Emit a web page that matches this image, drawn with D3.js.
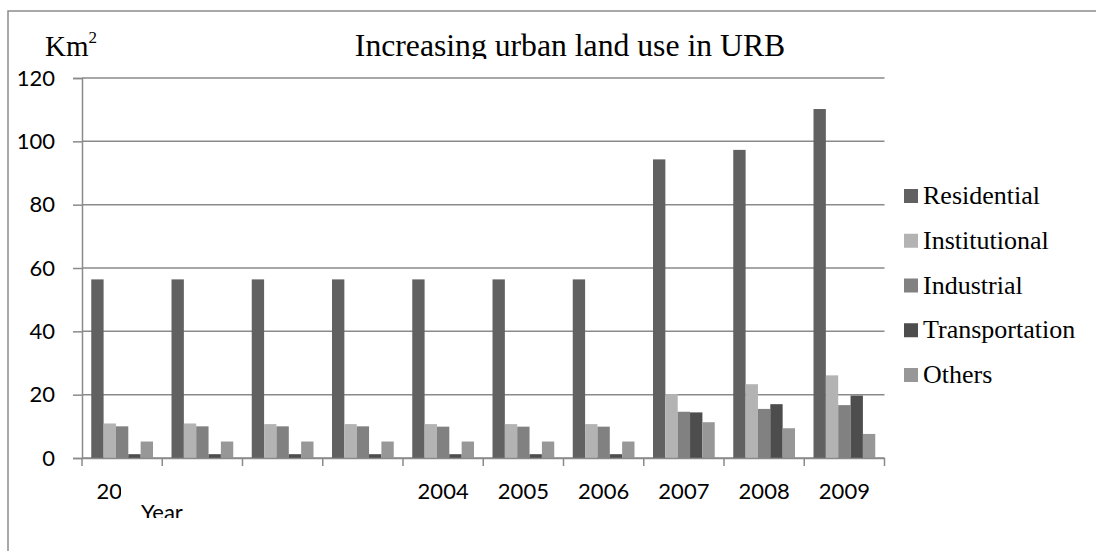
<!DOCTYPE html>
<html>
<head>
<meta charset="utf-8">
<script src="https://cdn.jsdelivr.net/npm/d3@7"></script>
<style>
  html, body { margin: 0; padding: 0; background: #fff; }
  svg { display: block; }
</style>
</head>
<body>
<svg id="chart" width="1096" height="551"></svg>
<script>
// Urban land use by category, km², 2000–2009
const years = ["2000", "2001", "2002", "2003", "2004", "2005", "2006", "2007", "2008", "2009"];
const seriesNames = ["Residential", "Institutional", "Industrial", "Transportation", "Others"];
const residential    = [56.4, 56.4, 56.4, 56.4, 56.4, 56.4, 56.4, 94.3, 97.3, 110.2];
const institutional  = [10.9, 10.9, 10.7, 10.7, 10.7, 10.7, 10.7, 20.2, 23.3, 26.1];
const industrial     = [10.0, 10.0, 10.0, 10.0, 9.9, 9.9, 9.9, 14.6, 15.5, 16.7];
const transportation = [1.2, 1.2, 1.2, 1.2, 1.2, 1.2, 1.2, 14.4, 17.0, 19.7];
const others         = [5.2, 5.2, 5.2, 5.2, 5.2, 5.2, 5.2, 11.3, 9.4, 7.6];
const yTicks = [0, 20, 40, 60, 80, 100, 120];
const colors = ["#616161", "#b3b3b3", "#818181", "#4d4d4d", "#979797"];

const values = [residential, institutional, industrial, transportation, others];

const svg = d3.select("#chart");
const plot = { left: 82, right: 884.5, top: 78, bottom: 458 };
const gridColor = "#8a8a8a";
const tickFont = "Lato, 'Open Sans', sans-serif";
const serif = "'Liberation Serif', 'Times New Roman', serif";

// outer chart frame
svg.append("path")
  .attr("d", "M8,551 V11 H1096")
  .attr("fill", "none")
  .attr("stroke", "#8c8c8c")
  .attr("stroke-width", 1.5);

const x0 = d3.scaleBand().domain(years).range([plot.left, plot.right]).padding(0);
const bw = x0.bandwidth();
const barW = bw / 6.5;               // gap between groups = 1.5 bar widths
const x1 = d3.scaleBand().domain(seriesNames)
  .range([barW * 0.75, bw - barW * 0.75]).padding(0);
const y = d3.scaleLinear().domain([0, 120]).range([plot.bottom, plot.top]);

// horizontal gridlines
svg.append("g").selectAll("line")
  .data(yTicks)
  .join("line")
  .attr("x1", plot.left).attr("x2", plot.right)
  .attr("y1", d => y(d)).attr("y2", d => y(d))
  .attr("stroke", gridColor).attr("stroke-width", 1.5);

// bars
const groups = svg.append("g").selectAll("g")
  .data(years)
  .join("g")
  .attr("transform", d => `translate(${x0(d)},0)`);

groups.selectAll("rect")
  .data((d, i) => seriesNames.map((s, k) => ({ s, k, v: values[k][i] })))
  .join("rect")
  .attr("x", d => x1(d.s))
  .attr("width", x1.bandwidth())
  .attr("y", d => y(d.v))
  .attr("height", d => y(0) - y(d.v))
  .attr("fill", d => colors[d.k]);

// y axis
const yAxis = svg.append("g")
  .attr("transform", `translate(${plot.left},0)`)
  .call(d3.axisLeft(y).tickValues(yTicks).tickSize(9).tickPadding(18));
yAxis.select(".domain").attr("stroke", gridColor).attr("stroke-width", 1.5);
yAxis.selectAll(".tick line").attr("stroke", gridColor).attr("stroke-width", 1.5);
yAxis.selectAll("text")
  .attr("font-family", tickFont).attr("font-size", 22).attr("fill", "#000");

// x axis with boundary ticks between categories
const xAxis = svg.append("g")
  .attr("transform", `translate(0,${plot.bottom})`)
  .call(d3.axisBottom(x0).tickSize(0).tickPadding(25));
xAxis.select(".domain").attr("stroke", gridColor).attr("stroke-width", 1.5);
xAxis.selectAll("text")
  .attr("font-family", tickFont).attr("font-size", 22).attr("fill", "#000");
xAxis.selectAll(".boundary")
  .data(d3.range(years.length + 1))
  .join("line")
  .attr("class", "boundary")
  .attr("x1", i => plot.left + i * bw).attr("x2", i => plot.left + i * bw)
  .attr("y1", 0).attr("y2", 8)
  .attr("stroke", gridColor).attr("stroke-width", 1.5);

// axis title box "Year" sits over the first labels
const yearBox = { x: 121, y: 468, w: 290, h: 50 };
svg.append("defs").append("clipPath").attr("id", "yearClip")
  .append("rect").attr("x", yearBox.x).attr("y", yearBox.y)
  .attr("width", yearBox.w).attr("height", yearBox.h);
svg.append("rect")
  .attr("x", yearBox.x).attr("y", yearBox.y)
  .attr("width", yearBox.w).attr("height", yearBox.h)
  .attr("fill", "#fff");
svg.append("text")
  .attr("clip-path", "url(#yearClip)")
  .attr("x", 141).attr("y", 520)
  .attr("font-family", tickFont).attr("font-size", 22)
  .text("Year");

// title (its lower edge is cut by the plot area)
svg.select("defs").append("clipPath").attr("id", "titleClip")
  .append("rect").attr("x", 0).attr("y", 0).attr("width", 1096).attr("height", 59);
svg.append("text")
  .attr("clip-path", "url(#titleClip)")
  .attr("x", 570).attr("y", 56)
  .attr("text-anchor", "middle")
  .attr("font-family", serif).attr("font-size", 31.7)
  .text("Increasing urban land use in URB");

// unit label
const unit = svg.append("text")
  .attr("x", 45).attr("y", 56)
  .attr("font-family", serif).attr("font-size", 29);
unit.append("tspan").text("Km");
unit.append("tspan").attr("dy", -13).attr("font-size", 17).text("2");

// legend
const legend = svg.append("g").selectAll("g")
  .data(seriesNames)
  .join("g")
  .attr("transform", (d, i) => `translate(904,${196 + i * 44.75})`);
legend.append("rect")
  .attr("x", 0).attr("y", -7).attr("width", 14).attr("height", 14)
  .attr("fill", (d, i) => colors[i]);
legend.append("text")
  .attr("x", 19).attr("y", 8)
  .attr("font-family", serif).attr("font-size", 26)
  .text(d => d);
</script>
</body>
</html>
